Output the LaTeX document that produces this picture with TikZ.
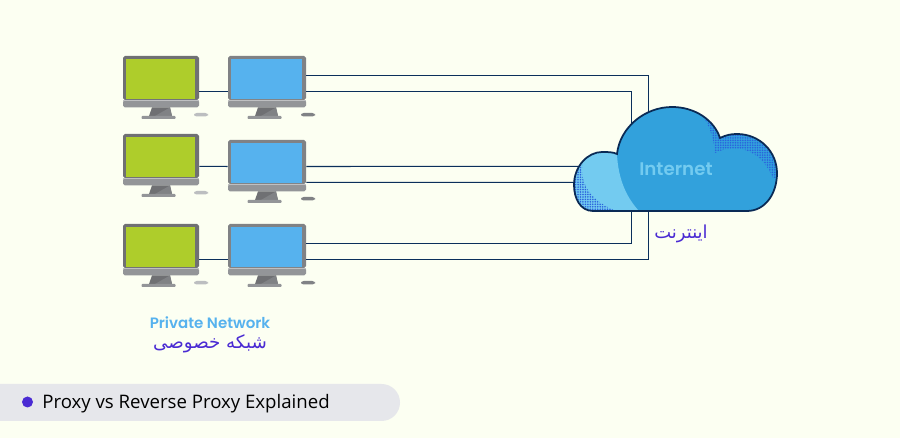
\documentclass[tikz,border=0pt]{standalone}
\usepackage{fontspec}
\usetikzlibrary{positioning, calc, patterns}
\setmainfont{Open Sans}
\newfontfamily\latinfont{Poppins}[BoldFont={Poppins SemiBold}]
\newfontfamily\arabicfont[Script=Arabic]{DejaVu Sans}
\TeXXeTstate=1
\definecolor{paper}{HTML}{FCFFF2}
\definecolor{wire}{HTML}{0B2F5B}
\definecolor{cloudmain}{HTML}{32A1DC}
\definecolor{cloudlight}{HTML}{73CBF0}
\definecolor{cloudedge}{HTML}{0A2A55}
\definecolor{clouddots}{HTML}{2A62DC}
\definecolor{leaf}{HTML}{AECD2B}
\definecolor{sky}{HTML}{56B2EE}
\definecolor{violet}{HTML}{4A2BD3}
\definecolor{barfill}{HTML}{E6E7EB}
\definecolor{framedark}{HTML}{6F7073}
\definecolor{framemid}{HTML}{808285}
\definecolor{chin}{HTML}{939598}
\definecolor{chintop}{HTML}{BFC0C2}
\definecolor{mousepale}{HTML}{BCBEC0}
\pgfdeclarepatternformonly{fine dots}{\pgfqpoint{-0.7pt}{-0.7pt}}{\pgfqpoint{0.7pt}{0.7pt}}{\pgfqpoint{1.4pt}{1.4pt}}{\pgfpathcircle{\pgfqpoint{0pt}{0pt}}{0.5pt}\pgfusepath{fill}}
\newcommand{\monitor}[7]{% name, x, y, width, frame, screen, mouse
  \node (#1) [frame, minimum width=#4*0.02cm, fill=#5] at (#2+#4/2,#3+22) {};
  \fill [#6] (#2+2.5,#3+3) rectangle (#2+#4-4,#3+43);
  \fill [chin, rounded corners=1pt] (#2,#3+44) rectangle (#2+#4,#3+51.5);
  \fill [chintop] (#2,#3+44) rectangle (#2+#4,#3+45);
  \fill [framedark] (#2+#4/2-9,#3+51.5) -- (#2+#4/2+9,#3+51.5) -- (#2+#4/2+11,#3+60) -- (#2+#4/2-12,#3+60) -- cycle;
  \fill [framemid] (#2+#4/2+9,#3+51.5) -- (#2+#4/2+11,#3+60) -- (#2+#4/2-6,#3+60) -- cycle;
  \fill [chin, rounded corners=0.5pt] (#2+#4/2-19.5,#3+60) rectangle (#2+#4/2+14.5,#3+63);
  \fill [#7, rounded corners=1.5pt] (#2+#4-5,#3+57) rectangle (#2+#4+9,#3+60.5);
}
\begin{document}
\begin{tikzpicture}[x=0.02cm,y=-0.02cm,
  frame/.style={rectangle,minimum height=0.88cm,inner sep=0pt,rounded corners=1pt},
  link/.style={wire,line width=0.6pt},
  cloudtext/.style={inner sep=0pt,font=\latinfont\bfseries}]
\useasboundingbox (0,0) rectangle (900,438);
\fill [paper] (0,0) rectangle (900,438);
\node (cloud) [minimum width=4cm,minimum height=2cm] at (676,159) {};
\monitor{g1}{123}{56}{76}{framedark}{leaf}{mousepale}
\monitor{g2}{123}{134}{76}{framedark}{leaf}{mousepale}
\monitor{g3}{123}{224}{76}{framedark}{leaf}{mousepale}
\monitor{b1}{228}{56}{78}{framemid}{sky}{framemid}
\monitor{b2}{228}{140}{78}{framemid}{sky}{framemid}
\monitor{b3}{228}{224}{78}{framemid}{sky}{framemid}
% left to right
\draw [link] ([yshift=-7.65pt]g1.east) -- ([yshift=-7.65pt]b1.west);
\draw [link] ([yshift=-5.95pt]g2.east) -- ([yshift=-2.55pt]b2.west);
\draw [link] ([yshift=-7.65pt]g3.east) -- ([yshift=-7.65pt]b3.west);
% to the cloud
\draw [link] ([yshift=1.42pt]b1.east) -| ([xshift=-27.5*0.02cm]cloud.center);
\draw [link] ([yshift=-7.65pt]b1.east) -| ([xshift=-44.5*0.02cm]cloud.center);
\draw [link] ([yshift=-2.55pt]b2.east) -- ([yshift=-4.25pt]cloud.center);
\draw [link] ([yshift=-11.62pt]b2.east) -- ([yshift=-13.32pt]cloud.center);
\draw [link] ([yshift=1.42pt]b3.east) -| ([xshift=-44.5*0.02cm]cloud.center);
\draw [link] ([yshift=-7.65pt]b3.east) -| ([xshift=-27.5*0.02cm]cloud.center);
% cloud body
\begin{scope}
  \clip (593,211) .. controls (580,211) and (574,198) .. (574,185)
    .. controls (574,166) and (588,152) .. (602,152)
    .. controls (608,152) and (613,152) .. (617,154)
    .. controls (620,127) and (645,107) .. (672,107)
    .. controls (695,107) and (714,120) .. (720,138)
    .. controls (726,135) and (731,134) .. (737,134)
    .. controls (760,134) and (777,152) .. (777,173)
    .. controls (777,194) and (765,211) .. (747,211) -- cycle;
  \fill [cloudmain] (560,100) rectangle (790,220);
  \fill [cloudlight] (560,140) rectangle (617,220);
  \fill [cloudlight] (617,154) .. controls (618,178) and (626,197) .. (639,211) -- (600,220) -- (600,150) -- cycle;
  \fill [pattern=fine dots, pattern color=clouddots] (570,150) -- (584,158)
    .. controls (578,175) and (584,198) .. (616,211) -- (570,215) -- cycle;
  \fill [pattern=fine dots, pattern color=clouddots] (696,107)
    .. controls (708,120) and (714,138) .. (715,153) .. controls (735,143) and (760,148) .. (773,178)
    -- (785,178) -- (785,107) -- cycle;
\end{scope}
\draw [cloudedge, line width=1pt] (593,211) .. controls (580,211) and (574,198) .. (574,185)
    .. controls (574,166) and (588,152) .. (602,152)
    .. controls (608,152) and (613,152) .. (617,154)
    .. controls (620,127) and (645,107) .. (672,107)
    .. controls (695,107) and (714,120) .. (720,138)
    .. controls (726,135) and (731,134) .. (737,134)
    .. controls (760,134) and (777,152) .. (777,173)
    .. controls (777,194) and (765,211) .. (747,211) -- cycle;
\node (inet) [cloudtext, text=cloudlight, font=\latinfont\bfseries\fontsize{10.4}{12}\selectfont] at (676,169) {Internet};
\node (inetfa) [inner sep=0pt, text=violet, font=\fontsize{10.2}{12}\selectfont] at (681,233.5) {\arabicfont\beginR اینترنت\endR};
\node (priv) [cloudtext, text=sky, font=\latinfont\bfseries\fontsize{8.55}{10}\selectfont] at (210,323) {Private Network};
\node (privfa) [inner sep=0pt, text=violet, font=\fontsize{10.4}{12}\selectfont] at (210,344) {\arabicfont\beginR شبکه خصوصی\endR};
% title bar
\fill [barfill, rounded corners=10.5pt] (-30,384) rectangle (400,421);
\fill [violet] (27.5,402) circle (5.5);
\node (title) [anchor=west, inner sep=0pt, font=\fontsize{10.6}{12}\selectfont] at (42,404) {Proxy vs Reverse Proxy Explained};
\end{tikzpicture}
\end{document}
